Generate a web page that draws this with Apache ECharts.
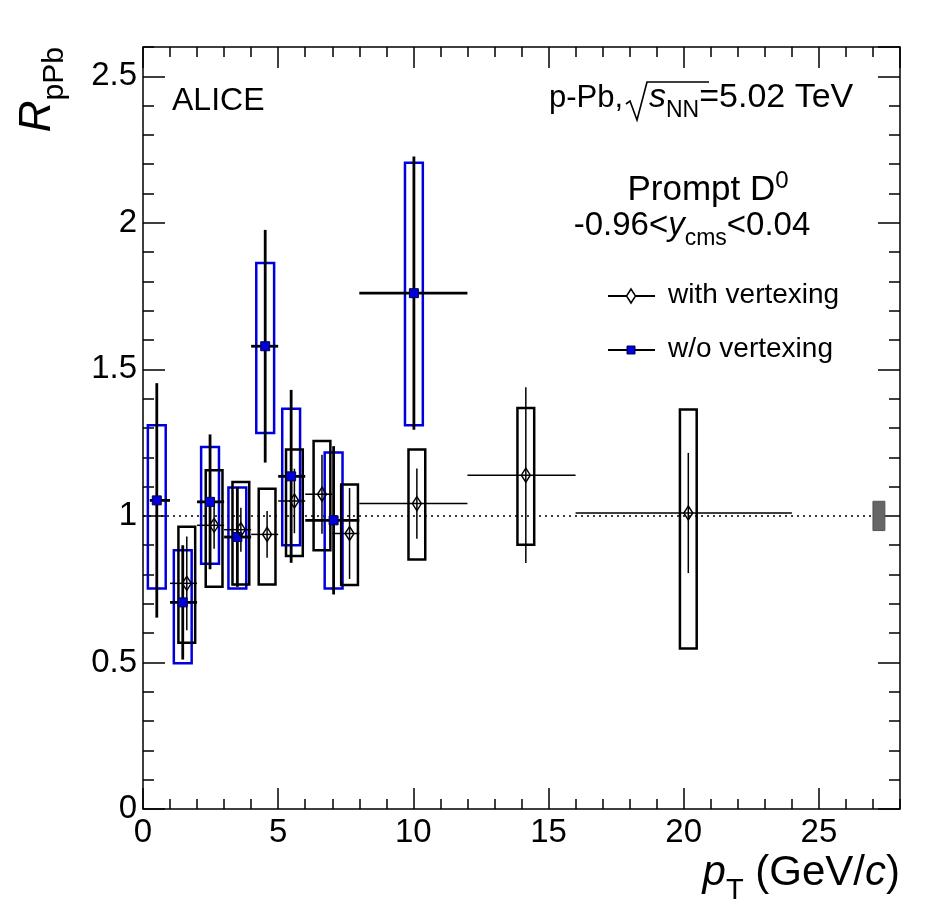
<!DOCTYPE html>
<html>
<head>
<meta charset="utf-8">
<script src="https://cdn.jsdelivr.net/npm/echarts@6/dist/echarts.min.js"></script>
<style>
html, body { margin: 0; padding: 0; background: #fff; }
#chart { width: 950px; height: 912px; }
</style>
</head>
<body>
<div id="chart"></div>
<script>
// prompt D0 RpPb, with vertexing (black, open diamonds)
var vtxPt = [1.62, 2.63, 3.62, 4.59, 5.60, 6.62, 7.64, 10.13, 14.16, 20.17];
var vtxPtLow = [1, 2, 3, 4, 5, 6, 7, 8, 12, 16];
var vtxPtHigh = [2, 3, 4, 5, 6, 7, 8, 12, 16, 24];
var vtxR = [0.770, 0.968, 0.953, 0.937, 1.051, 1.074, 0.940, 1.042, 1.139, 1.010];
var vtxStat = [0.16, 0.08, 0.075, 0.08, 0.11, 0.135, 0.155, 0.12, 0.30, 0.205];
var vtxSysLow = [0.203, 0.21, 0.187, 0.171, 0.188, 0.191, 0.176, 0.191, 0.237, 0.462];
var vtxSysHigh = [0.193, 0.188, 0.163, 0.156, 0.176, 0.182, 0.167, 0.185, 0.229, 0.353];

// w/o vertexing (blue, full squares)
var noVtxPt = [0.51, 1.47, 2.48, 3.49, 4.52, 5.48, 7.05, 10.02];
var noVtxPtLow = [0.25, 1, 2, 3, 4, 5, 6, 8];
var noVtxPtHigh = [1, 2, 3, 4, 5, 6, 8, 12];
var noVtxR = [1.053, 0.705, 1.048, 0.928, 1.579, 1.135, 0.985, 1.760];
var noVtxStat = [0.40, 0.195, 0.23, 0.17, 0.397, 0.295, 0.253, 0.466];
var noVtxSysLow = [0.301, 0.208, 0.211, 0.176, 0.296, 0.235, 0.233, 0.451];
var noVtxSysHigh = [0.256, 0.178, 0.187, 0.169, 0.284, 0.231, 0.231, 0.445];

// normalisation uncertainty box and reference line
var normBox = [[27.22, 1.0, 0.05]];
var refLine = [[0, 1], [27, 1]];

var FONT = 'Liberation Sans, Arial, Helvetica, sans-serif';
var BLUE = '#0000dd';

var chartDom = document.getElementById('chart');
var chart = echarts.init(chartDom);

function boxItem(halfWidth, color, width) {
    return function (params, api) {
        var x = api.value(0), y = api.value(1);
        var p1 = api.coord([x - halfWidth, y + api.value(3)]);
        var p2 = api.coord([x + halfWidth, y - api.value(2)]);
        return {
            type: 'rect',
            shape: {x: p1[0], y: p1[1], width: p2[0] - p1[0], height: p2[1] - p1[1]},
            style: {fill: 'none', stroke: color, lineWidth: width}
        };
    };
}

function errItem(width) {
    return function (params, api) {
        var x = api.value(0), y = api.value(1);
        var top = api.coord([x, y + api.value(4)]);
        var bot = api.coord([x, y - api.value(4)]);
        var left = api.coord([api.value(2), y]);
        var right = api.coord([api.value(3), y]);
        var st = {stroke: '#000', lineWidth: width};
        return {
            type: 'group',
            children: [
                {type: 'line', shape: {x1: top[0], y1: top[1], x2: bot[0], y2: bot[1]}, style: st},
                {type: 'line', shape: {x1: left[0], y1: left[1], x2: right[0], y2: right[1]}, style: st}
            ]
        };
    };
}

var blueBoxes = noVtxPt.map((x, i) => [x, noVtxR[i], noVtxSysLow[i], noVtxSysHigh[i]]);
var blackBoxes = vtxPt.map((x, i) => [x, vtxR[i], vtxSysLow[i], vtxSysHigh[i]]);
var blueErr = noVtxPt.map((x, i) => [x, noVtxR[i], noVtxPtLow[i], noVtxPtHigh[i], noVtxStat[i]]);
var blackErr = vtxPt.map((x, i) => [x, vtxR[i], vtxPtLow[i], vtxPtHigh[i], vtxStat[i]]);

var tickStyle = {color: '#000', width: 1.5};

// major and minor ticks on all four sides (ROOT style), ticks pointing inwards
function xAx(pos, interval, len, labels) {
    return {
        type: 'value', min: 0, max: 28, interval: interval, position: pos,
        axisLine: {show: false, onZero: false},
        axisTick: {show: true, inside: true, length: len, lineStyle: tickStyle},
        axisLabel: {show: labels, showMaxLabel: false, fontSize: 33, color: '#000', fontFamily: FONT, margin: 7},
        splitLine: {show: false}
    };
}
function yAx(pos, interval, len, labels) {
    return {
        type: 'value', min: 0, max: 2.6, interval: interval, position: pos,
        axisLine: {show: false, onZero: false},
        axisTick: {show: true, inside: true, length: len, lineStyle: tickStyle},
        axisLabel: {show: labels, showMaxLabel: false, fontSize: 33, color: '#000', fontFamily: FONT, margin: 6},
        splitLine: {show: false}
    };
}

var option = {
    animation: false,
    backgroundColor: '#fff',
    grid: {
        left: 143, top: 47, width: 757, height: 762,
        show: true, borderColor: '#000', borderWidth: 1.5, backgroundColor: 'transparent'
    },
    xAxis: [
        xAx('bottom', 5, 21, true),
        xAx('bottom', 1, 10, false),
        xAx('top', 5, 21, false),
        xAx('top', 1, 10, false)
    ],
    yAxis: [
        yAx('left', 0.5, 22, true),
        yAx('left', 0.1, 11, false),
        yAx('right', 0.5, 22, false),
        yAx('right', 0.1, 11, false)
    ],
    series: [
        {
            name: 'reference', type: 'line', data: refLine, symbol: 'none', silent: true,
            lineStyle: {color: '#000', width: 1.5, type: [2, 4]}, z: 1
        },
        {
            name: 'normalisation', type: 'custom', data: normBox, encode: {x: 0, y: 1}, z: 2,
            renderItem: function (params, api) {
                var x = api.value(0), y = api.value(1), e = api.value(2);
                var p1 = api.coord([x - 0.22, y + e]);
                var p2 = api.coord([x + 0.22, y - e]);
                return {
                    type: 'rect',
                    shape: {x: p1[0], y: p1[1], width: p2[0] - p1[0], height: p2[1] - p1[1]},
                    style: {fill: '#666', stroke: '#555', lineWidth: 1}
                };
            }
        },
        {
            name: 'w/o vertexing syst.', type: 'custom', data: blueBoxes, encode: {x: 0, y: 1}, z: 3,
            renderItem: boxItem(0.33, BLUE, 2.5)
        },
        {
            name: 'with vertexing syst.', type: 'custom', data: blackBoxes, encode: {x: 0, y: 1}, z: 4,
            renderItem: boxItem(0.31, '#000', 2.5)
        },
        {
            name: 'w/o vertexing stat.', type: 'custom', data: blueErr, encode: {x: 0, y: 1}, z: 5,
            renderItem: errItem(2.8)
        },
        {
            name: 'with vertexing stat.', type: 'custom', data: blackErr, encode: {x: 0, y: 1}, z: 6,
            renderItem: errItem(1.5)
        },
        {
            name: 'w/o vertexing', type: 'scatter', z: 7,
            data: noVtxPt.map((x, i) => [x, noVtxR[i]]),
            symbol: 'rect', symbolSize: 9,
            itemStyle: {color: BLUE, borderColor: '#00004a', borderWidth: 1, opacity: 1}
        },
        {
            name: 'with vertexing', type: 'scatter', z: 8,
            data: vtxPt.map((x, i) => [x, vtxR[i]]),
            symbol: 'diamond', symbolSize: [9, 14],
            itemStyle: {color: 'rgba(0,0,0,0)', borderColor: '#000', borderWidth: 1.5, opacity: 1}
        }
    ],
    graphic: [
        {
            type: 'text', left: 172, top: 85,
            style: {text: 'ALICE', fontSize: 32, fontFamily: FONT, fill: '#000'}
        },
        // p-Pb, sqrt(sNN) = 5.02 TeV
        {
            type: 'text', x: 549, y: 82,
            style: {
                text: 'p-Pb,', align: 'left', verticalAlign: 'top', fontFamily: FONT, fill: '#000',
                fontSize: 31, lineHeight: 32
            }
        },
        {
            type: 'polyline', shape: {points: [[626, 104], [630, 101], [637, 120], [647, 82], [709, 82]]},
            style: {stroke: '#000', lineWidth: 1.6, fill: 'none'}
        },
        {
            type: 'text', x: 649, y: 81,
            style: {
                text: '{i|s}{s|NN}{a|=5.02 TeV}',
                align: 'left', verticalAlign: 'top', fontFamily: FONT, fill: '#000',
                rich: {
                    a: {fontSize: 34, lineHeight: 34, verticalAlign: 'top', fontFamily: FONT},
                    i: {fontSize: 34, lineHeight: 34, verticalAlign: 'top', fontStyle: 'italic', fontFamily: FONT},
                    s: {fontSize: 23, lineHeight: 23, verticalAlign: 'top', padding: [18, 0, 0, 0], fontFamily: FONT}
                }
            }
        },
        {
            type: 'text', x: 708, y: 173,
            style: {
                text: '{a|Prompt D}{u|0}',
                align: 'center', verticalAlign: 'top', fontFamily: FONT, fill: '#000',
                rich: {
                    a: {fontSize: 35, lineHeight: 35, verticalAlign: 'top', fontFamily: FONT},
                    u: {fontSize: 24, lineHeight: 24, verticalAlign: 'top', padding: [-4, 0, 0, 0], fontFamily: FONT}
                }
            }
        },
        {
            type: 'text', x: 692, y: 209,
            style: {
                text: '{a|-0.96<}{i|y}{s|cms}{a|<0.04}',
                align: 'center', verticalAlign: 'top', fontFamily: FONT, fill: '#000',
                rich: {
                    a: {fontSize: 33, lineHeight: 33, verticalAlign: 'top', fontFamily: FONT},
                    i: {fontSize: 33, lineHeight: 33, verticalAlign: 'top', fontStyle: 'italic', fontFamily: FONT},
                    s: {fontSize: 23, lineHeight: 23, verticalAlign: 'top', padding: [18, 0, 0, 0], fontFamily: FONT}
                }
            }
        },
        // legend
        {type: 'line', shape: {x1: 608, y1: 296, x2: 655, y2: 296}, style: {stroke: '#000', lineWidth: 2}},
        {type: 'polygon', shape: {points: [[631, 289], [635.5, 296], [631, 303], [626.5, 296]]},
            style: {fill: '#fff', stroke: '#000', lineWidth: 1.5}},
        {
            type: 'text', left: 668, top: 281,
            style: {text: 'with vertexing', fontSize: 28, fontFamily: FONT, fill: '#000'}
        },
        {type: 'line', shape: {x1: 608, y1: 350, x2: 655, y2: 350}, style: {stroke: '#000', lineWidth: 2}},
        {type: 'rect', shape: {x: 627, y: 346, width: 8, height: 8},
            style: {fill: BLUE, stroke: '#00004a', lineWidth: 1}},
        {
            type: 'text', left: 668, top: 335,
            style: {text: 'w/o vertexing', fontSize: 28, fontFamily: FONT, fill: '#000'}
        },
        // axis titles
        {
            type: 'text', x: 900, y: 852,
            style: {
                text: '{p|p}{s|T}{a| (GeV/}{p|c}{a|)}',
                align: 'right', verticalAlign: 'top', fontFamily: FONT, fill: '#000',
                rich: {
                    p: {fontSize: 42, lineHeight: 42, verticalAlign: 'top', fontStyle: 'italic', fontFamily: FONT},
                    a: {fontSize: 42, lineHeight: 42, verticalAlign: 'top', fontFamily: FONT},
                    s: {fontSize: 29, lineHeight: 29, verticalAlign: 'top', padding: [24, 0, 0, 0], fontFamily: FONT}
                }
            }
        },
        {
            type: 'text', x: 16, y: 47, rotation: Math.PI / 2,
            style: {
                text: '{r|R}{s|pPb}',
                align: 'right', verticalAlign: 'top', fontFamily: FONT, fill: '#000',
                rich: {
                    r: {fontSize: 44, lineHeight: 44, verticalAlign: 'top', fontStyle: 'italic', fontFamily: FONT},
                    s: {fontSize: 30, lineHeight: 30, verticalAlign: 'top', padding: [24, 0, 0, 0], fontFamily: FONT}
                }
            }
        }
    ]
};

chart.setOption(option);
</script>
</body>
</html>
